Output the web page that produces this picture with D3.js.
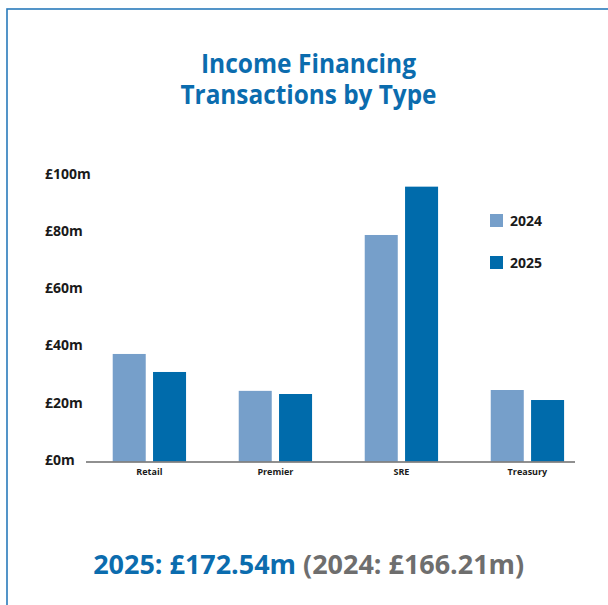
<!DOCTYPE html>
<html>
<head>
<meta charset="utf-8">
<script src="https://cdn.jsdelivr.net/npm/d3@7"></script>
<style>
    body { margin: 0; background: #fff; }
    svg { display: block; }
    text { font-family: "Open Sans", "Noto Sans", sans-serif; }
</style>
</head>
<body>
<svg id="chart" width="608" height="605"></svg>
<script>
const categories = ['Retail', 'Premier', 'SRE', 'Treasury'];
const years = ['2024', '2025'];
const values2024 = [37.6, 24.7, 79.2, 25.0];
const values2025 = [31.3, 23.6, 96.1, 21.5];
const yTicks = [0, 20, 40, 60, 80, 100];
const titleLines = ['Income Financing', 'Transactions by Type'];
const totals = ['2025: £172.54m', '(2024: £166.21m)'];

const colors = { '2024': '#769fca', '2025': '#006bab' };
const blue = '#0b6cae';

const svg = d3.select('#chart');

// frame, only the top and left edges are visible
svg.append('rect')
    .attr('x', 7).attr('y', 9)
    .attr('width', 700).attr('height', 700)
    .attr('fill', 'none')
    .attr('stroke', '#2a7bbb')
    .attr('stroke-width', 1.6);

// title
svg.append('g').selectAll('text')
    .data(titleLines)
    .join('text')
    .attr('x', 308.5)
    .attr('y', (d, i) => 72.5 + i * 31.5)
    .attr('text-anchor', 'middle')
    .attr('textLength', (d, i) => [215, 256][i])
    .attr('lengthAdjust', 'spacingAndGlyphs')
    .attr('font-size', 27.5)
    .attr('font-weight', 700)
    .attr('fill', blue)
    .text(d => d);

const rows = categories.map((c, i) => ({ cat: c, '2024': values2024[i], '2025': values2025[i] }));

const y = d3.scaleLinear().domain([0, 100]).range([461.5, 175.5]);
const x0 = d3.scaleBand().domain(categories).range([86, 590.8]).paddingInner(0.418).paddingOuter(0.212);
const x1 = d3.scaleBand().domain(years).range([0, x0.bandwidth()]).paddingInner(0.181);

// y labels
const yAxis = svg.append('g')
    .attr('transform', 'translate(45,0)')
    .call(d3.axisLeft(y).tickValues(yTicks).tickSize(0).tickFormat(d => '£' + d + 'm'));
yAxis.select('.domain').remove();
yAxis.selectAll('text')
    .attr('x', 0)
    .attr('dy', '0.2em')
    .attr('text-anchor', 'start')
    .attr('font-family', '"Open Sans", sans-serif')
    .attr('font-size', 14)
    .attr('font-weight', 700)
    .attr('fill', '#1a1a1a');

// bars
svg.append('g').selectAll('g')
    .data(rows)
    .join('g')
    .attr('transform', d => `translate(${x0(d.cat)},0)`)
    .selectAll('rect')
    .data(d => years.map(k => ({ key: k, value: d[k] })))
    .join('rect')
    .attr('x', d => x1(d.key))
    .attr('y', d => y(d.value))
    .attr('width', x1.bandwidth())
    .attr('height', d => y(0) - y(d.value))
    .attr('fill', d => colors[d.key]);

// baseline
svg.append('line')
    .attr('x1', 86).attr('x2', 575)
    .attr('y1', y(0) + 0.5).attr('y2', y(0) + 0.5)
    .attr('stroke', '#6b6b6b')
    .attr('stroke-width', 1.5);

// category labels
const xAxis = svg.append('g')
    .attr('transform', `translate(0,${y(0)})`)
    .call(d3.axisBottom(x0).tickSize(0).tickPadding(7));
xAxis.select('.domain').remove();
xAxis.selectAll('text')
    .attr('font-family', '"Open Sans", sans-serif')
    .attr('font-size', 9)
    .attr('font-weight', 700)
    .attr('fill', '#1a1a1a');

// legend
const legend = svg.append('g').selectAll('g')
    .data(years)
    .join('g')
    .attr('transform', (d, i) => `translate(490,${214 + i * 42})`);
legend.append('rect')
    .attr('width', 13).attr('height', 13)
    .attr('fill', d => colors[d]);
legend.append('text')
    .attr('x', 20).attr('y', 7.5)
    .attr('dy', '0.35em')
    .attr('font-size', 14)
    .attr('font-weight', 700)
    .attr('fill', '#1a1a1a')
    .text(d => d);

// totals line
const total = svg.append('text')
    .attr('x', 308.7)
    .attr('y', 574.3)
    .attr('text-anchor', 'middle')
    .attr('textLength', 431)
    .attr('lengthAdjust', 'spacingAndGlyphs')
    .attr('font-size', 27)
    .attr('font-weight', 700);
total.append('tspan').attr('fill', blue).text(totals[0] + ' ');
total.append('tspan').attr('fill', '#6e6e6e').text(totals[1]);
</script>
</body>
</html>
